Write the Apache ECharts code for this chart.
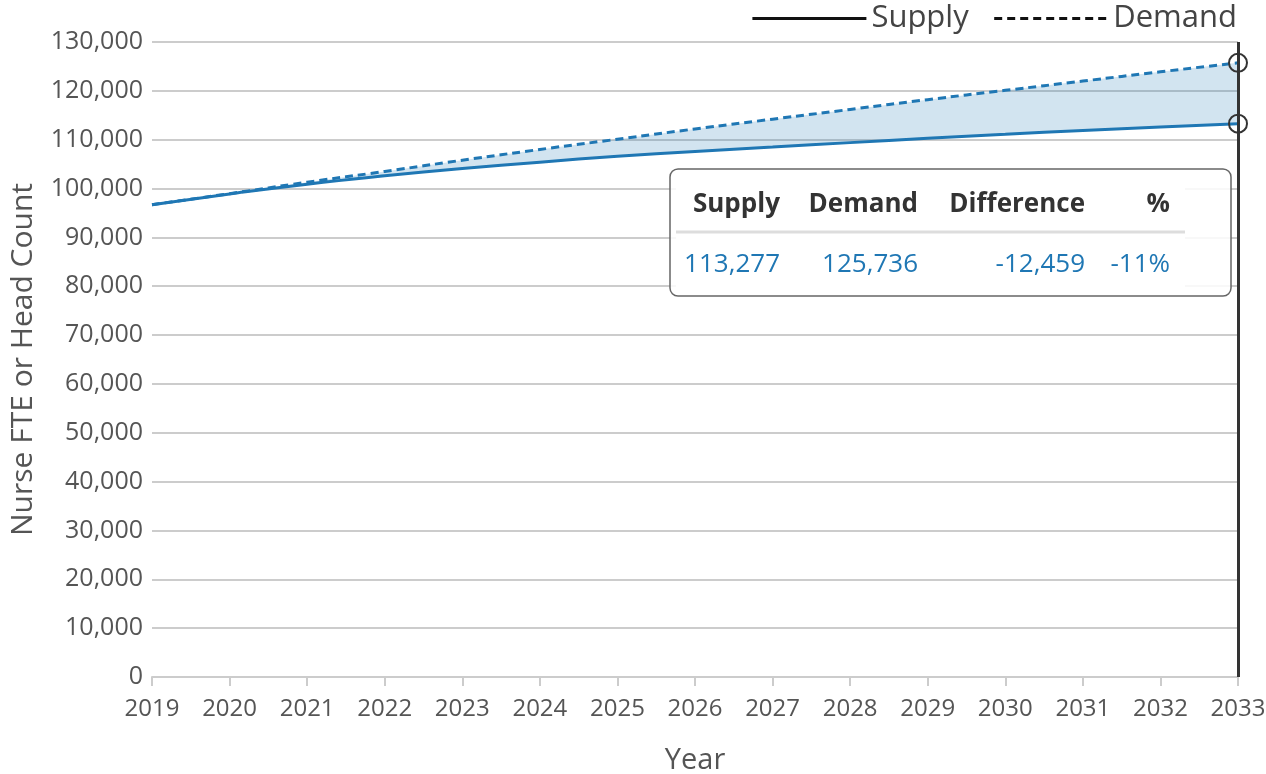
<!DOCTYPE html>
<html>
<head>
<meta charset="utf-8">
<script src="https://cdn.jsdelivr.net/npm/echarts@6/dist/echarts.min.js"></script>
<style>
  html, body { margin: 0; padding: 0; background: #fff; }
  #chart { width: 1266px; height: 774px; }
</style>
</head>
<body>
<div id="chart"></div>
<script>
  // years on the x axis
  var years = ['2019', '2020', '2021', '2022', '2023', '2024', '2025', '2026',
    '2027', '2028', '2029', '2030', '2031', '2032', '2033']
  // nurse supply (solid line)
  var supply = [96700, 98900, 100900, 102600, 104100, 105400, 106600, 107600,
    108500, 109400, 110300, 111100, 111900, 112600, 113277]
  // nurse demand (dashed line)
  var demand = [96700, 98950, 101300, 103500, 105800, 108000, 110100, 112200,
    114200, 116200, 118200, 120100, 122000, 123900, 125736]

  var blue = '#1f77b4'
  var font = '"Open Sans", "Noto Sans", sans-serif'

  // gap between the two lines, stacked on top of supply for the shaded band
  var gap = demand.map(function (d, i) { return d - supply[i] })

  var last = years.length - 1
  var lastSupply = supply[last]
  var lastDemand = demand[last]
  var diff = lastSupply - lastDemand
  var pct = Math.round(diff / lastSupply * 100)
  function fmt(n) { return n.toLocaleString('en-US') }

  var chart = echarts.init(document.getElementById('chart'))

  var headStyle = { fontFamily: font, fontSize: 26, fontWeight: 'bold', fill: '#333', align: 'right', verticalAlign: 'middle' }
  var valStyle = { fontFamily: font, fontSize: 26, fill: blue, align: 'right', verticalAlign: 'middle' }
  var cols = [
    { head: 'Supply', val: fmt(lastSupply), x: 780 },
    { head: 'Demand', val: fmt(lastDemand), x: 918 },
    { head: 'Difference', val: fmt(diff), x: 1085 },
    { head: '%', val: pct + '%', x: 1170 }
  ]
  var tableEls = [
    {
      type: 'rect',
      shape: { x: 670, y: 169, width: 561, height: 127, r: 8 },
      style: { fill: 'rgba(255,255,255,0.85)', stroke: '#666', lineWidth: 1.5 },
      z: 100
    },
    {
      type: 'rect',
      shape: { x: 676, y: 176, width: 509, height: 114 },
      style: { fill: '#fff' },
      z: 101
    },
    {
      type: 'line',
      shape: { x1: 676, y1: 232, x2: 1185, y2: 232 },
      style: { stroke: '#ddd', lineWidth: 3 },
      z: 102
    }
  ]
  cols.forEach(function (c) {
    tableEls.push({ type: 'text', x: c.x, y: 205, z: 103, style: Object.assign({ text: c.head }, headStyle) })
    tableEls.push({ type: 'text', x: c.x, y: 265, z: 103, style: Object.assign({ text: c.val }, valStyle) })
  })

  chart.setOption({
    animation: false,
    textStyle: { fontFamily: font },
    grid: { left: 152, right: 28, top: 42, bottom: 97, outerBoundsMode: 'none', containLabel: false },
    legend: {
      right: 24,
      top: -2,
      itemWidth: 114,
      itemHeight: 14,
      itemGap: 24,
      textStyle: { fontSize: 31, color: '#444', fontFamily: font },
      data: [
        { name: 'Supply', itemStyle: { opacity: 0 }, lineStyle: { color: '#111', width: 3, type: 'solid' } },
        { name: 'Demand', itemStyle: { opacity: 0 }, lineStyle: { color: '#111', width: 3, type: [8, 5] } }
      ]
    },
    xAxis: {
      type: 'category',
      data: years,
      boundaryGap: false,
      name: 'Year',
      nameLocation: 'middle',
      nameGap: 69,
      nameTextStyle: { fontSize: 29, color: '#555', fontFamily: font },
      axisLine: { lineStyle: { color: '#ccc', width: 2 } },
      axisTick: { length: 9, lineStyle: { color: '#ccc', width: 2 } },
      axisLabel: { fontSize: 24, color: '#555', margin: 20, fontFamily: font }
    },
    yAxis: {
      type: 'value',
      min: 0,
      max: 130000,
      interval: 10000,
      name: 'Nurse FTE or Head Count',
      nameLocation: 'middle',
      nameGap: 114,
      nameTextStyle: { fontSize: 30, color: '#555', fontFamily: font },
      axisLine: { show: false },
      axisTick: { show: false },
      splitLine: { lineStyle: { color: '#ccc', width: 2 } },
      axisLabel: {
        fontSize: 25,
        color: '#555',
        margin: 9,
        fontFamily: font,
        formatter: function (v) { return fmt(v) }
      }
    },
    series: [
      {
        name: 'base',
        type: 'line',
        stack: 'gap',
        data: supply,
        symbol: 'none',
        lineStyle: { opacity: 0 },
        silent: true,
        z: 1
      },
      {
        name: 'gapArea',
        type: 'line',
        stack: 'gap',
        data: gap,
        symbol: 'none',
        lineStyle: { opacity: 0 },
        areaStyle: { color: 'rgba(31,119,180,0.2)', opacity: 1 },
        silent: true,
        z: 1
      },
      {
        name: 'Supply',
        type: 'line',
        data: supply,
        symbol: 'none',
        smooth: true,
        lineStyle: { color: blue, width: 3 },
        itemStyle: { color: blue },
        z: 3,
        markLine: {
          silent: true,
          symbol: 'none',
          label: { show: false },
          lineStyle: { color: '#333', width: 3, type: 'solid' },
          data: [{ xAxis: years[last] }]
        },
        markPoint: {
          symbol: 'circle',
          symbolSize: 18,
          label: { show: false },
          itemStyle: { color: 'rgba(0,0,0,0)', borderColor: '#333', borderWidth: 2 },
          data: [
            { coord: [years[last], lastSupply] },
            { coord: [years[last], lastDemand] }
          ]
        }
      },
      {
        name: 'Demand',
        type: 'line',
        data: demand,
        symbol: 'none',
        smooth: true,
        lineStyle: { color: blue, width: 3, type: [8, 5] },
        itemStyle: { color: blue },
        z: 3
      }
    ],
    graphic: tableEls
  })
</script>
</body>
</html>
